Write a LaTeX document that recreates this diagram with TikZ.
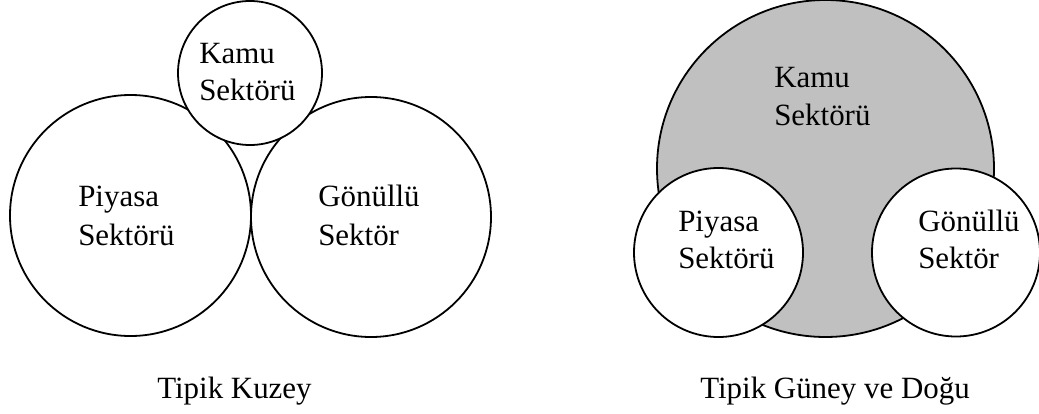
\documentclass[tikz,border=0pt]{standalone}
\usepackage{fontspec}
\setmainfont{Liberation Serif}
\definecolor{kamugray}{HTML}{C0C0C0}
\begin{document}
\begin{tikzpicture}[x=0.75pt,y=-0.75pt,
  sector/.style={circle,draw=black,line width=1.35pt,inner sep=0pt},
  lbl/.style={anchor=base west,inner sep=0pt,font=\fontsize{23.2pt}{28pt}\selectfont}]
\useasboundingbox (0,0) rectangle (1039,414);
% left panel
\node[sector,fill=white,minimum size=180.75pt] (piyL) at (130.5,215.5) {};
\node[sector,fill=white,minimum size=180pt] (gonL) at (371,217) {};
\node[sector,fill=white,minimum size=108pt] (kamuL) at (250,73) {};
\node[lbl] (kamuL1) at (199,63) {Kamu};
\node[lbl] (kamuL2) at (199,100) {Sektörü};
\node[lbl] (piyL1) at (78,206) {Piyasa};
\node[lbl] (piyL2) at (78,245) {Sektörü};
\node[lbl] (gonL1) at (318,206) {Gönüllü};
\node[lbl] (gonL2) at (318,245) {Sektör};
\node[lbl] (capL) at (157,398) {Tipik Kuzey};
% right panel
\node[sector,fill=kamugray,minimum size=252.75pt] (kamuR) at (825.5,168.5) {};
\node[sector,fill=white,minimum size=126.75pt] (piyR) at (718.5,252.5) {};
\node[sector,fill=white,minimum size=126pt] (gonR) at (956,252.5) {};
\node[lbl] (kamuR1) at (774,87) {Kamu};
\node[lbl] (kamuR2) at (774,125) {Sektörü};
\node[lbl] (piyR1) at (678,231) {Piyasa};
\node[lbl] (piyR2) at (678,268) {Sektörü};
\node[lbl] (gonR1) at (918,231) {Gönüllü};
\node[lbl] (gonR2) at (918,268) {Sektör};
\node[lbl] (capR) at (700,398) {Tipik Güney ve Doğu};
\end{tikzpicture}
\end{document}
